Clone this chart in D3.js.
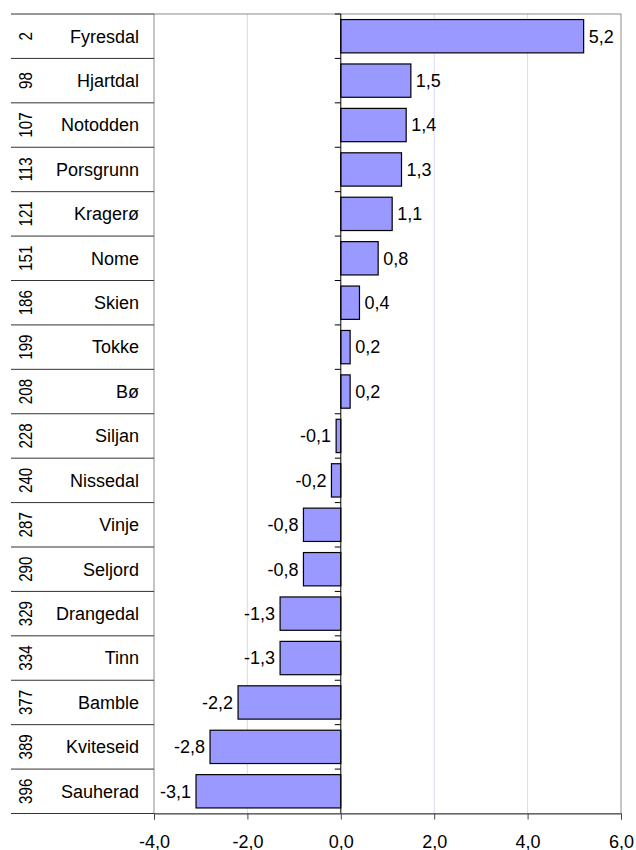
<!DOCTYPE html>
<html>
<head>
<meta charset="utf-8">
<script src="https://cdn.jsdelivr.net/npm/d3@7"></script>
<style>
body { margin: 0; background: #fff; }
text { font-family: "Liberation Sans", Arial, sans-serif; }
</style>
</head>
<body>
<script>
// data
var ranks = [2, 98, 107, 113, 121, 151, 186, 199, 208, 228, 240, 287, 290, 329, 334, 377, 389, 396];
var names = ["Fyresdal", "Hjartdal", "Notodden", "Porsgrunn", "Kragerø", "Nome", "Skien", "Tokke", "Bø",
  "Siljan", "Nissedal", "Vinje", "Seljord", "Drangedal", "Tinn", "Bamble", "Kviteseid", "Sauherad"];
var values = [5.2, 1.5, 1.4, 1.3, 1.1, 0.8, 0.4, 0.2, 0.2, -0.1, -0.2, -0.8, -0.8, -1.3, -1.3, -2.2, -2.8, -3.1];
var xTicks = [-4, -2, 0, 2, 4, 6];

var W = 636, H = 850;
// plot box ('top' is reserved on window, so use other names)
var pLeft = 154, pRight = 621, pTop = 14, pBottom = 813.5, tableLeft = 11;
var fs = 18;

var svg = d3.select('body').append('svg')
  .attr('width', W).attr('height', H);

var fmt = function(v) { return d3.format('.1f')(v).replace('.', ',').replace('−', '-'); };

var x = d3.scaleLinear().domain([-4, 6]).range([pLeft, pRight]);
var y = d3.scaleBand().domain(names).range([pTop, pBottom]).paddingInner(0.25).paddingOuter(0.125);
var rowY = d3.scaleBand().domain(names).range([pTop, pBottom]);

// gridlines
svg.append('g').selectAll('line')
  .data(xTicks.filter(function(d) { return d !== 0 && d !== -4 && d !== 6; }))
  .enter().append('line')
  .attr('x1', function(d) { return x(d); }).attr('x2', function(d) { return x(d); })
  .attr('y1', pTop).attr('y2', pBottom)
  .attr('stroke', '#d8d8ff').attr('stroke-width', 1);

// plot border
svg.append('rect')
  .attr('x', pLeft).attr('y', pTop)
  .attr('width', pRight - pLeft).attr('height', pBottom - pTop)
  .attr('fill', 'none').attr('stroke', '#8c8c8c').attr('stroke-width', 1);

// left table rows
var table = svg.append('g');
table.selectAll('line.row')
  .data(names)
  .enter().append('line')
  .attr('x1', tableLeft).attr('x2', pLeft)
  .attr('y1', function(d) { return rowY(d); }).attr('y2', function(d) { return rowY(d); })
  .attr('stroke', '#333').attr('stroke-width', 1);
table.append('line')
  .attr('x1', tableLeft).attr('x2', pLeft)
  .attr('y1', pBottom).attr('y2', pBottom)
  .attr('stroke', '#333');

table.selectAll('text.name')
  .data(names)
  .enter().append('text')
  .attr('x', 139)
  .attr('y', function(d) { return rowY(d) + rowY.bandwidth() / 2; })
  .attr('dy', '0.35em')
  .attr('text-anchor', 'end')
  .attr('font-size', fs)
  .text(function(d) { return d; });

// rank numbers, turned on their side and a bit squeezed
table.selectAll('text.rank')
  .data(ranks)
  .enter().append('text')
  .attr('transform', function(d, i) {
    return 'translate(26,' + (rowY(names[i]) + rowY.bandwidth() / 2) + ') rotate(-90) scale(0.84,1)';
  })
  .attr('dy', '0.35em')
  .attr('text-anchor', 'middle')
  .attr('font-size', fs)
  .text(function(d) { return d; });

// bars
svg.append('g').selectAll('rect')
  .data(values)
  .enter().append('rect')
  .attr('x', function(d) { return x(Math.min(0, d)); })
  .attr('y', function(d, i) { return y(names[i]); })
  .attr('width', function(d) { return Math.abs(x(d) - x(0)); })
  .attr('height', y.bandwidth())
  .attr('fill', '#9999ff')
  .attr('stroke', '#000').attr('stroke-width', 1.2);

// value labels
svg.append('g').selectAll('text')
  .data(values)
  .enter().append('text')
  .attr('x', function(d) { return d >= 0 ? x(d) + 5 : x(d) - 5; })
  .attr('y', function(d, i) { return rowY(names[i]) + rowY.bandwidth() / 2; })
  .attr('dy', '0.35em')
  .attr('text-anchor', function(d) { return d >= 0 ? 'start' : 'end'; })
  .attr('font-size', fs)
  .text(fmt);

// zero line with category ticks
svg.append('line')
  .attr('x1', x(0)).attr('x2', x(0))
  .attr('y1', pTop).attr('y2', pBottom)
  .attr('stroke', '#000');
svg.append('g').selectAll('line')
  .data(names)
  .enter().append('line')
  .attr('x1', x(0) - 6).attr('x2', x(0))
  .attr('y1', function(d) { return rowY(d); }).attr('y2', function(d) { return rowY(d); })
  .attr('stroke', '#000');

// x axis
var xAxis = d3.axisBottom(x).tickValues(xTicks).tickSize(6).tickFormat(fmt);
var ax = svg.append('g')
  .attr('transform', 'translate(0,' + pBottom + ')')
  .call(xAxis);
ax.select('.domain').attr('stroke', '#444');
ax.selectAll('.tick line').attr('stroke', '#444');
ax.selectAll('.tick text')
  .attr('font-size', fs)
  .attr('font-family', '"Liberation Sans", Arial, sans-serif')
  .attr('fill', '#000')
  .attr('dy', 0)
  .attr('y', 34);
</script>
</body>
</html>
